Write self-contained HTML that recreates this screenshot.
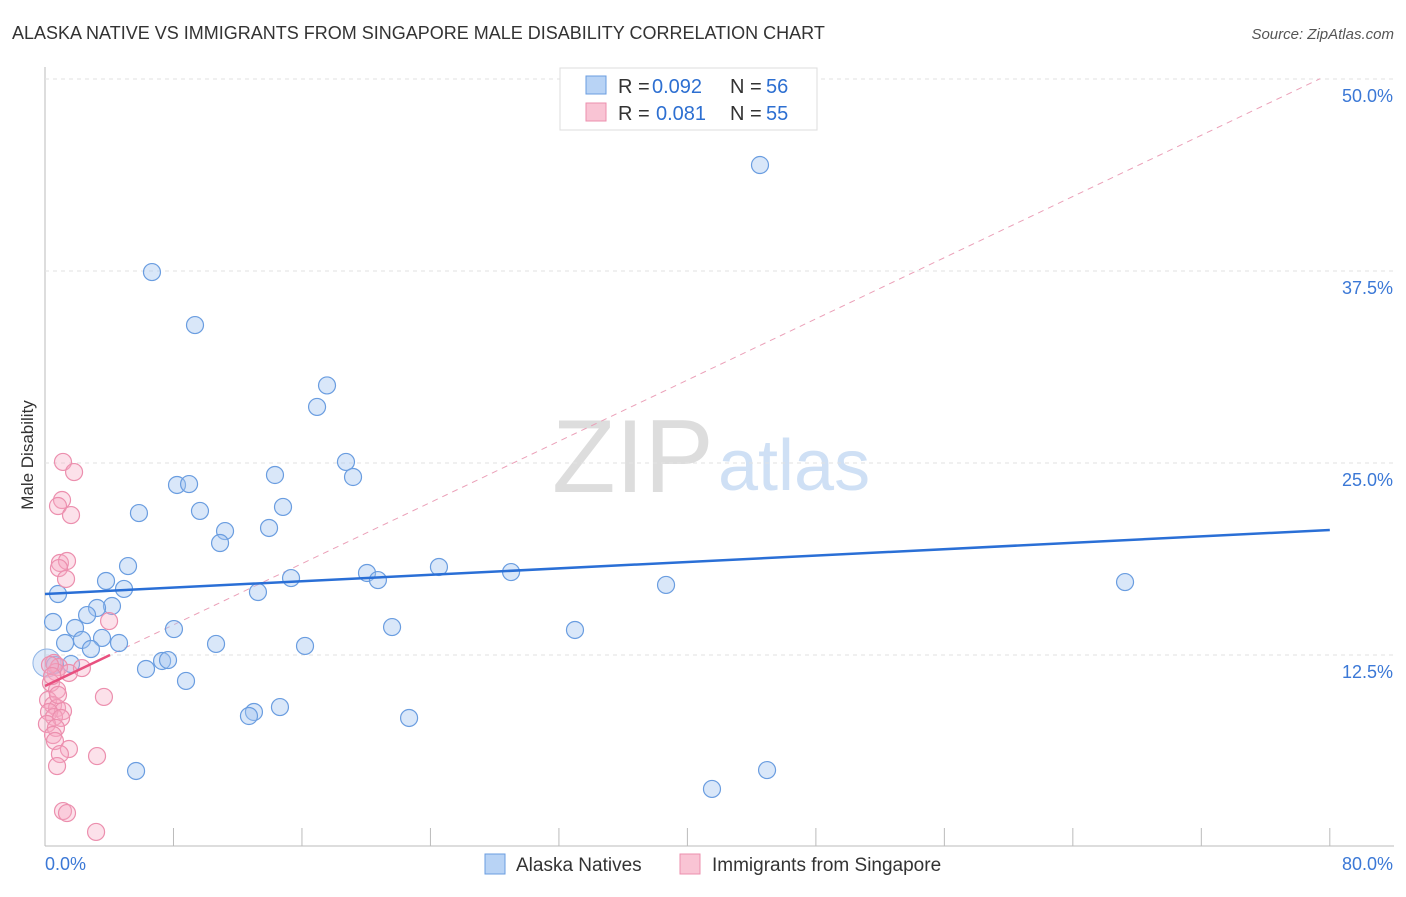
<!DOCTYPE html>
<html><head><meta charset="utf-8"><style>
body{margin:0;background:#fff;font-family:"Liberation Sans",sans-serif;}
svg text{font-family:"Liberation Sans",sans-serif;}
</style></head><body>
<svg id="c" width="1406" height="892">
<text x="12" y="39" font-size="18" fill="#333">ALASKA NATIVE VS IMMIGRANTS FROM SINGAPORE MALE DISABILITY CORRELATION CHART</text>
<text x="1394" y="39" font-size="15" fill="#555" text-anchor="end" font-style="italic">Source: ZipAtlas.com</text>
<text x="33" y="455" font-size="17" fill="#333" text-anchor="middle" transform="rotate(-90 33 455)">Male Disability</text>
<text x="552" y="492" font-size="104" fill="#ddd" font-family="Liberation Serif">ZIP</text>
<text x="718" y="490" font-size="72" fill="#cfe0f5">atlas</text>
<g id="grid"></g><g id="marks"></g>
<g>
<rect x="560" y="68" width="257" height="62" fill="#fff" stroke="#ddd"/>
<rect x="586" y="76" width="20" height="18" fill="#b8d3f5" stroke="#6a9de0"/>
<rect x="586" y="103" width="20" height="18" fill="#f9c4d4" stroke="#ec8fae"/>
<text x="618" y="93" font-size="20" fill="#333">R =</text>
<text x="652" y="93" font-size="20" fill="#2d6fd1">0.092</text>
<text x="730" y="93" font-size="20" fill="#333">N =</text>
<text x="766" y="93" font-size="20" fill="#2d6fd1">56</text>
<text x="618" y="120" font-size="20" fill="#333">R =</text>
<text x="656" y="120" font-size="20" fill="#2d6fd1">0.081</text>
<text x="730" y="120" font-size="20" fill="#333">N =</text>
<text x="766" y="120" font-size="20" fill="#2d6fd1">55</text>
</g>
<g>
<rect x="485" y="854" width="20" height="20" fill="#b8d3f5" stroke="#6a9de0"/>
<text x="516" y="871" font-size="19" fill="#333">Alaska Natives</text>
<rect x="680" y="854" width="20" height="20" fill="#f9c4d4" stroke="#ec8fae"/>
<text x="712" y="871" font-size="19" fill="#333">Immigrants from Singapore</text>
</g>
</svg>
<script>
const xTicks=[0,8,16,24,32,40,48,56,64,72,80];
const yTicks=[12.5,25,37.5,50];
const yTickLabels=["12.5%","25.0%","37.5%","50.0%"];
const blueX=[6.66,9.34,44.52,17.56,16.94,18.74,19.18,14.32,8.22,8.97,14.82,9.65,5.85,13.95,11.21,10.90,5.17,20.05,20.73,15.32,24.53,29.02,38.67,67.25,3.80,4.92,13.26,0.81,4.17,3.24,2.62,0.50,1.87,8.03,21.61,33.0,1.25,2.30,3.55,4.61,10.65,16.19,2.86,1.62,7.29,7.66,6.29,8.78,14.63,13.01,12.70,22.67,5.67,44.96,41.53,0.62];
const blueY=[37.43,33.98,44.40,30.05,28.65,25.07,24.09,24.22,23.57,23.63,22.14,21.88,21.74,20.77,20.57,19.79,18.29,17.84,17.38,17.51,18.23,17.90,17.06,17.25,17.32,16.80,16.60,16.47,15.69,15.56,15.10,14.65,14.26,14.19,14.32,14.13,13.28,13.48,13.61,13.28,13.22,13.09,12.89,11.91,12.11,12.17,11.59,10.81,9.11,8.79,8.53,8.40,4.95,5.01,3.78,11.85];
const pinkX=[1.12,1.81,1.06,0.81,1.62,0.93,1.37,0.87,1.31,3.99,0.56,0.87,0.68,1.49,2.30,0.37,0.75,3.67,0.19,0.50,0.75,1.12,0.25,0.56,1.0,0.12,0.68,0.50,0.62,1.49,0.93,3.24,0.75,1.12,1.37,3.18,0.31,0.44,0.81];
const pinkY=[25.07,24.41,22.59,22.20,21.61,18.49,18.62,18.16,17.45,14.71,11.98,11.72,11.39,11.33,11.65,10.68,10.22,9.77,9.57,9.24,9.05,8.85,8.79,8.46,8.40,8.01,7.75,7.29,6.90,6.38,6.05,5.92,5.27,2.34,2.21,0.98,11.85,11.13,9.90];
const blueTrend=[16.47,20.64];
const pinkTrend=[10.48,12.5,4.05];
const pinkDash=[0.498];
const X=v=>45+v*16.06, Y=v=>847-v*15.36;
const NS="http://www.w3.org/2000/svg";
function mk(p,t,a){const e=document.createElementNS(NS,t);for(const k in a)e.setAttribute(k,a[k]);p.appendChild(e);return e;}
const g=document.getElementById('grid'), m=document.getElementById('marks');
let ax=mk(g,'line',{x1:45,y1:67,x2:45,y2:846,stroke:'#bbb'});


let bx=mk(g,'line',{x1:45,y1:846,x2:1394,y2:846,stroke:'#bbb'});


xTicks.forEach(t=>{let l=mk(g,'line',{x1:X(t),y1:828,x2:X(t),y2:846,stroke:'#bbb'});

});
yTicks.forEach((t,i)=>{let l=mk(g,'line',{x1:45,y1:Y(t),x2:1394,y2:Y(t),stroke:'#e2e2e2','stroke-dasharray':'4,4'});


let tx=mk(g,'text',{x:1393,y:Y(t)+23,'font-size':18,fill:'#3b78d6','text-anchor':'end'});tx.textContent=yTickLabels[i];

});
let x0=mk(g,'text',{x:45,y:870,'font-size':18,fill:'#3b78d6'});x0.textContent='0.0%';


let x1=mk(g,'text',{x:1393,y:870,'font-size':18,fill:'#3b78d6','text-anchor':'end'});x1.textContent='80.0%';


let pd=mk(m,'line',{x1:X(0),y1:Y(pinkTrend[0]),x2:X(79.4),y2:Y(pinkTrend[0]+pinkDash[0]*79.4),stroke:'#eba0b8','stroke-dasharray':'6,5','stroke-width':1});


blueX.forEach((v,i)=>{let c=mk(m,'circle',{cx:X(v),cy:Y(blueY[i]),r:8.5,fill:'rgba(160,195,240,0.4)',stroke:'#6a9de0','stroke-width':1.2});

});
let big=mk(m,'circle',{cx:X(0.12),cy:Y(11.98),r:14,fill:'rgba(160,195,240,0.35)',stroke:'#8fb4e6'});


pinkX.forEach((v,i)=>{let c=mk(m,'circle',{cx:X(v),cy:Y(pinkY[i]),r:8.5,fill:'rgba(246,170,195,0.35)',stroke:'#ec8fae','stroke-width':1.2});

});
let bt=mk(m,'line',{x1:X(0),y1:Y(blueTrend[0]),x2:X(80),y2:Y(blueTrend[1]),stroke:'#2a6fd6','stroke-width':2.5});


let pt=mk(m,'line',{x1:X(0),y1:Y(pinkTrend[0]),x2:X(pinkTrend[2]),y2:Y(pinkTrend[1]),stroke:'#e8507f','stroke-width':2.5});


</script>
</body></html>
